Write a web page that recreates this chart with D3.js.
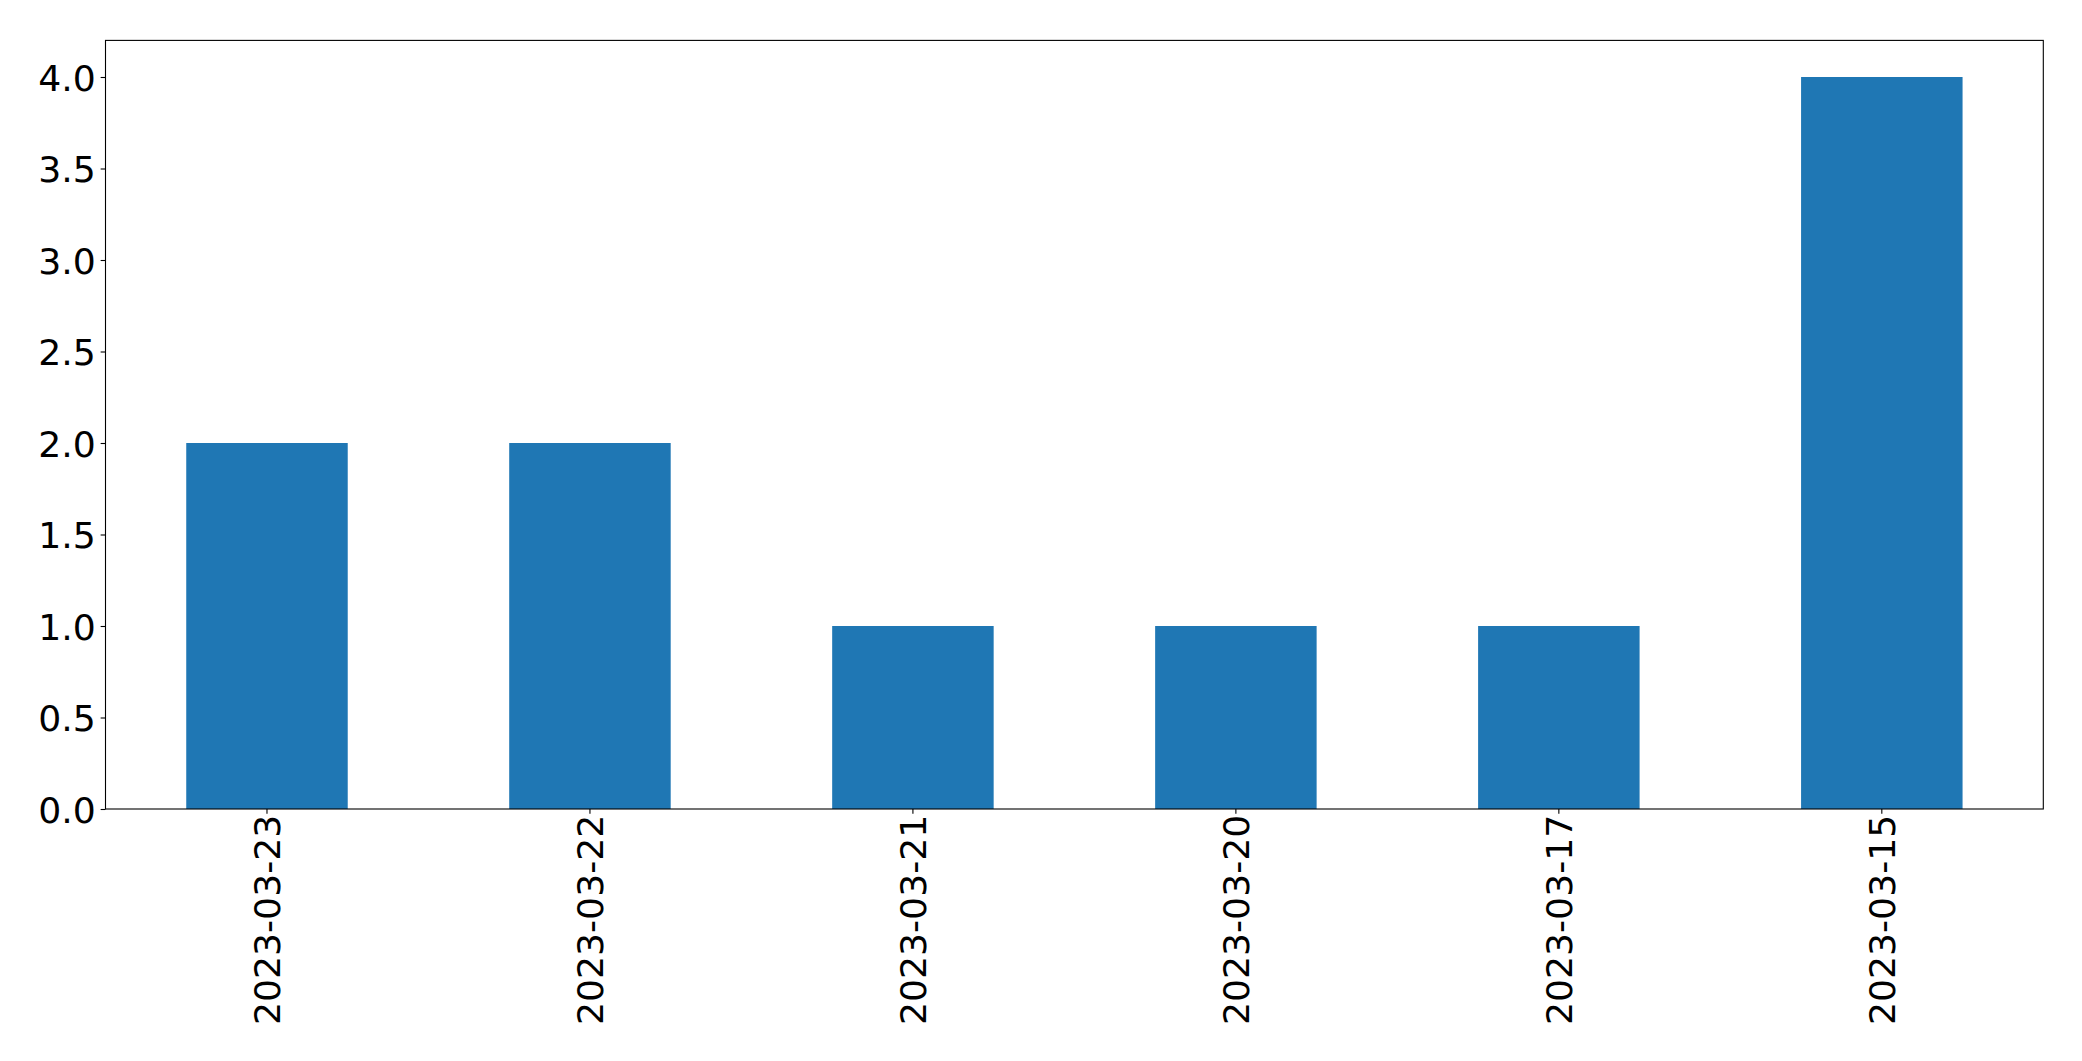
<!DOCTYPE html>
<html>
<head>
<meta charset="utf-8">
<script src="https://cdn.jsdelivr.net/npm/d3@7"></script>
<style>
  html, body { margin: 0; padding: 0; background: #fff; }
  svg { display: block; }
  text { font-family: "DejaVu Sans", sans-serif; fill: #000; }
</style>
</head>
<body>
<svg id="chart" width="2082" height="1061"></svg>
<script>
const categories = ["2023-03-23", "2023-03-22", "2023-03-21", "2023-03-20", "2023-03-17", "2023-03-15"];
const values = [2, 2, 1, 1, 1, 4];
const yTicks = [0, 0.5, 1, 1.5, 2, 2.5, 3, 3.5, 4];

const plotLeft = 105.5, plotRight = 2043.3, plotBottom = 809, plotTop = 40.4;
const fontSize = 36.2;
const tickLen = 4.86, tickPad = 4.86;

const svg = d3.select("#chart");

const x = d3.scaleBand()
  .domain(categories)
  .range([plotLeft, plotRight])
  .paddingInner(0.5)
  .paddingOuter(0.25);

const y = d3.scaleLinear()
  .domain([0, 4.2])
  .range([plotBottom, plotTop]);

// Bars
svg.append("g")
  .selectAll("rect")
  .data(categories.map((c, i) => ({ c, v: values[i] })))
  .join("rect")
  .attr("x", d => x(d.c))
  .attr("y", d => y(d.v))
  .attr("width", x.bandwidth())
  .attr("height", d => y(0) - y(d.v))
  .attr("fill", "#1f77b4");

// Y axis
const yAxis = d3.axisLeft(y)
  .tickValues(yTicks)
  .tickFormat(d3.format(".1f"))
  .tickSize(tickLen)
  .tickPadding(tickPad);

const gy = svg.append("g")
  .attr("transform", `translate(${plotLeft},0)`)
  .call(yAxis);
gy.select(".domain").remove();
gy.selectAll(".tick line").attr("stroke", "#000").attr("stroke-width", 1.1);
gy.selectAll(".tick text")
  .attr("font-size", fontSize)
  .attr("font-family", "DejaVu Sans, sans-serif")
  .attr("fill", "#000")
  .attr("dy", "0.36em");

// X axis
const xAxis = d3.axisBottom(x)
  .tickSize(tickLen)
  .tickPadding(tickPad);

const gx = svg.append("g")
  .attr("transform", `translate(0,${plotBottom})`)
  .call(xAxis);
gx.select(".domain").remove();
gx.selectAll(".tick line").attr("stroke", "#000").attr("stroke-width", 1.1);
gx.selectAll(".tick text")
  .attr("font-size", fontSize)
  .attr("font-family", "DejaVu Sans, sans-serif")
  .attr("fill", "#000")
  .attr("text-anchor", "end")
  .attr("transform", `translate(0,${tickLen + tickPad - 4}) rotate(-90)`)
  .attr("x", 0)
  .attr("y", 0)
  .attr("dy", "0.36em");

// Frame (spines)
svg.append("rect")
  .attr("x", plotLeft)
  .attr("y", plotTop)
  .attr("width", plotRight - plotLeft)
  .attr("height", plotBottom - plotTop)
  .attr("fill", "none")
  .attr("stroke", "#000")
  .attr("stroke-width", 1.1);
</script>
</body>
</html>
